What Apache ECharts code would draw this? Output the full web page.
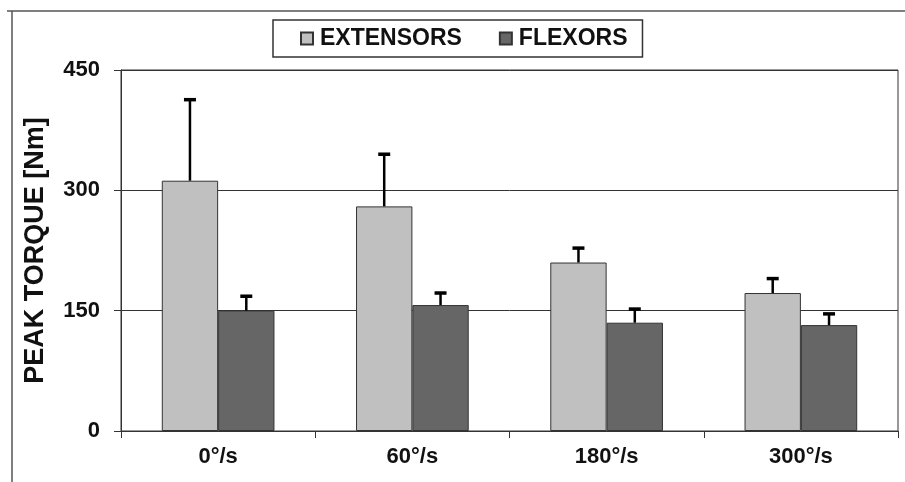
<!DOCTYPE html>
<html>
<head>
<meta charset="utf-8">
<script src="https://cdn.jsdelivr.net/npm/echarts@6/dist/echarts.min.js"></script>
<style>
html,body{margin:0;padding:0;background:#fff;}
#chart{width:905px;height:482px;}
</style>
</head>
<body>
<div id="chart"></div>
<script>
const categories = ['0°/s', '60°/s', '180°/s', '300°/s'];
const extensors = [312, 280, 210, 172];
const extensorsSD = [101, 65, 18, 18];
const flexors = [150, 157, 135, 132];
const flexorsSD = [18, 15, 17, 14];
const seriesNames = ['EXTENSORS', 'FLEXORS'];
const yAxisTitle = 'PEAK TORQUE [Nm]';

const FONT = '"Liberation Sans", Arial, sans-serif';
const GAP = 0.42;

function errorData(means, sds) {
  return means.map((m, i) => [i, m, sds[i]]);
}

function makeErrorRender(side) {
  return function (params, api) {
    const idx = api.value(0);
    const mean = api.value(1);
    const sd = api.value(2);
    const band = api.size([1, 0])[0];
    const barW = band * (1 - GAP) / 2;
    const cx = api.coord([idx, 0])[0] + side * barW / 2;
    const y1 = api.coord([idx, mean])[1];
    const y2 = api.coord([idx, mean + sd])[1];
    return {
      type: 'group',
      children: [
        { type: 'line', shape: { x1: cx, y1: y1, x2: cx, y2: y2 },
          style: { stroke: '#000', lineWidth: 2.5 } },
        { type: 'line', shape: { x1: cx - 6, y1: y2, x2: cx + 6, y2: y2 },
          style: { stroke: '#000', lineWidth: 3.5 } }
      ]
    };
  };
}

const chart = echarts.init(document.getElementById('chart'), null, { renderer: 'canvas' });
chart.setOption({
  animation: false,
  backgroundColor: '#fff',
  textStyle: { fontFamily: FONT },
  graphic: [
    { type: 'line', shape: { x1: 7, y1: 11, x2: 905, y2: 11 }, style: { stroke: '#555', lineWidth: 1.5 } },
    { type: 'line', shape: { x1: 12, y1: 11, x2: 12, y2: 482 }, style: { stroke: '#555', lineWidth: 1.5 } }
  ],
  legend: {
    data: seriesNames,
    left: 273,
    top: 20,
    padding: [7, 15, 7, 27],
    itemGap: 37,
    itemWidth: 12,
    itemHeight: 12,
    borderColor: '#333',
    borderWidth: 1.5,
    icon: 'rect',
    textStyle: { fontFamily: FONT, fontWeight: 'bold', fontSize: 23, color: '#111', padding: [0, 0, 0, 2] }
  },
  grid: {
    left: 121, right: 7, top: 70, bottom: 51,
    show: true, borderColor: '#333', borderWidth: 1
  },
  xAxis: {
    type: 'category',
    data: categories,
    boundaryGap: true,
    axisLine: { lineStyle: { color: '#333', width: 1 } },
    axisTick: { show: true, inside: false, length: 7, alignWithLabel: false, lineStyle: { color: '#333' } },
    axisLabel: { fontFamily: FONT, fontWeight: 'bold', fontSize: 22, color: '#111', margin: 15 }
  },
  yAxis: {
    type: 'value',
    min: 0, max: 450, interval: 150,
    name: yAxisTitle,
    nameLocation: 'middle',
    nameRotate: 90,
    nameGap: 72,
    nameTextStyle: { fontFamily: FONT, fontWeight: 'bold', fontSize: 27, color: '#111' },
    axisLine: { show: true, lineStyle: { color: '#333', width: 1 } },
    axisTick: { show: true, length: 7, lineStyle: { color: '#333' } },
    axisLabel: { fontFamily: FONT, fontWeight: 'bold', fontSize: 22, color: '#111', margin: 21 },
    splitLine: { show: true, lineStyle: { color: '#333', width: 1 } }
  },
  series: [
    {
      name: seriesNames[0], type: 'bar', data: extensors,
      barGap: '0%', barCategoryGap: (GAP * 100) + '%',
      itemStyle: { color: '#c0c0c0', borderColor: '#333', borderWidth: 1 }
    },
    {
      name: seriesNames[1], type: 'bar', data: flexors,
      itemStyle: { color: '#666666', borderColor: '#333', borderWidth: 1 }
    },
    {
      type: 'custom', name: 'extErr', data: errorData(extensors, extensorsSD),
      renderItem: makeErrorRender(-1), z: 5, encode: { x: 0, y: [1, 2] }
    },
    {
      type: 'custom', name: 'flexErr', data: errorData(flexors, flexorsSD),
      renderItem: makeErrorRender(1), z: 5, encode: { x: 0, y: [1, 2] }
    }
  ]
});
</script>
</body>
</html>
